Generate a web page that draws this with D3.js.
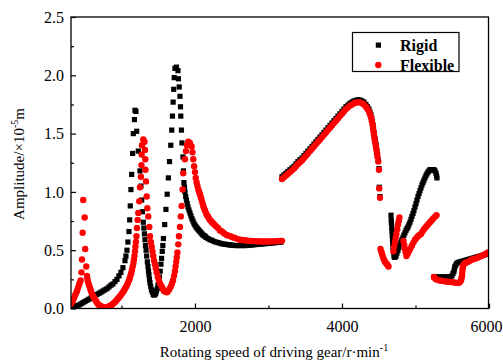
<!DOCTYPE html>
<html>
<head>
<meta charset="utf-8">
<script src="https://cdn.jsdelivr.net/npm/d3@7"></script>
<style>
  body { margin: 0; background: #fff; }
  svg { font-family: "Liberation Serif", "Times New Roman", serif; }
</style>
</head>
<body>
<svg id="chart" width="503" height="363"></svg>
<script>
// [speed r/min, amplitude x1e-5 m]
const rigidPoints = [
  [313,0.01],[340,0.015],[367,0.02],[395,0.025],[422,0.03],[449,0.04],[476,0.05],[503,0.06],[531,0.07],[558,0.08],
  [585,0.09],[612,0.10],[639,0.11],[667,0.12],[694,0.13],[721,0.14],[748,0.15],[775,0.16],[803,0.17],[830,0.185],
  [857,0.20],[884,0.21],[912,0.23],[939,0.25],[966,0.28],[993,0.31],[1020,0.35],[1048,0.41],[1061,0.45],[1075,0.50],
  [1088,0.57],[1102,0.66],[1112,0.76],[1120,0.88],[1129,1.02],[1139,1.15],[1152,1.33],[1161,1.50],[1177,1.62],[1184,1.70],
  [1197,1.69],[1207,1.52],[1229,1.35],[1252,1.18],[1265,1.05],[1275,0.93],[1286,0.83],[1297,0.74],[1305,0.69],[1313,0.64],
  [1320,0.59],[1327,0.54],[1335,0.50],[1343,0.45],[1352,0.40],[1361,0.36],[1368,0.32],[1374,0.29],[1381,0.25],[1388,0.22],
  [1398,0.19],[1408,0.16],[1420,0.14],[1433,0.12],[1445,0.115],[1456,0.12],[1466,0.13],[1476,0.15],[1487,0.17],[1497,0.20],
  [1507,0.23],[1517,0.27],[1527,0.32],[1537,0.38],[1546,0.43],[1555,0.49],[1563,0.54],[1571,0.60],[1588,0.72],[1605,0.85],
  [1622,0.98],[1638,1.12],[1654,1.26],[1671,1.40],[1684,1.53],[1694,1.65],[1703,1.77],[1711,1.88],[1718,1.98],[1728,2.06],
  [1748,2.07],[1769,2.04],[1775,1.97],[1786,1.90],[1796,1.82],[1803,1.73],[1807,1.65],[1816,1.53],[1823,1.42],[1837,1.30],
  [1843,1.18],[1850,1.08],[1857,1.04],[1864,1.00],[1874,0.96],[1884,0.93],[1895,0.90],[1905,0.87],[1918,0.845],[1932,0.82],
  [1945,0.795],[1959,0.77],[1973,0.75],[1986,0.73],[2000,0.715],[2014,0.70],[2027,0.69],[2041,0.68],[2054,0.67],[2068,0.66],
  [2082,0.65],[2095,0.64],[2109,0.63],[2123,0.625],[2136,0.62],[2150,0.61],[2177,0.60],[2204,0.59],[2231,0.585],[2258,0.575],
  [2286,0.57],[2313,0.565],[2340,0.56],[2367,0.555],[2395,0.552],[2422,0.55],[2449,0.547],[2476,0.545],[2503,0.543],[2531,0.541],
  [2558,0.54],[2585,0.54],[2612,0.54],[2639,0.54],[2667,0.54],[2694,0.54],[2721,0.542],[2748,0.544],[2775,0.545],[2803,0.547],
  [2830,0.549],[2857,0.55],[2884,0.552],[2912,0.554],[2939,0.555],[2966,0.557],[2993,0.559],[3020,0.56],[3048,0.562],[3075,0.564],
  [3102,0.565],[3129,0.567],[3156,0.569],[3170,0.57],
  [3184,1.13],[3211,1.145],[3238,1.16],[3265,1.175],[3292,1.19],[3320,1.205],[3347,1.22],[3374,1.24],[3401,1.26],[3428,1.275],
  [3456,1.29],[3483,1.31],[3510,1.33],[3537,1.35],[3565,1.37],[3592,1.39],[3619,1.41],[3646,1.43],[3673,1.45],[3701,1.47],
  [3728,1.49],[3755,1.51],[3782,1.53],[3809,1.55],[3837,1.57],[3864,1.59],[3891,1.61],[3918,1.63],[3945,1.65],[3973,1.67],
  [4000,1.69],[4027,1.71],[4054,1.73],[4082,1.745],[4109,1.76],[4136,1.77],[4163,1.78],[4190,1.785],[4218,1.79],[4245,1.788],
  [4272,1.78],[4299,1.77],[4326,1.75],[4347,1.73],[4367,1.71],[4381,1.685],[4394,1.66],[4405,1.63],[4415,1.60],[4422,1.57],
  [4428,1.54],[4435,1.51],[4442,1.48],[4449,1.455],[4456,1.43],[4462,1.405],[4469,1.38],[4476,1.35],[4483,1.32],[4494,1.27],
  [4503,1.20],[4507,1.04],[4517,0.96],
  [4667,0.80],[4670,0.76],[4673,0.73],[4677,0.695],[4680,0.66],[4684,0.625],[4687,0.59],[4690,0.555],[4694,0.52],[4700,0.485],
  [4707,0.45],[4714,0.44],[4721,0.44],
  [4735,0.45],[4748,0.475],[4762,0.50],[4775,0.525],[4789,0.55],[4802,0.57],[4816,0.59],[4830,0.61],[4843,0.63],[4857,0.65],
  [4871,0.67],[4884,0.685],[4898,0.70],[4911,0.72],[4925,0.74],[4939,0.765],[4952,0.79],[4966,0.815],[4979,0.84],[4993,0.87],
  [5007,0.90],[5020,0.93],[5034,0.96],[5048,0.985],[5061,1.01],[5075,1.035],[5088,1.06],[5102,1.08],[5115,1.10],[5129,1.12],
  [5143,1.14],[5156,1.155],[5170,1.17],[5184,1.18],[5197,1.19],[5211,1.19],[5224,1.19],[5238,1.19],[5251,1.19],[5265,1.18],
  [5279,1.16],[5286,1.14],[5292,1.12],
  [5251,0.27],[5272,0.27],[5292,0.27],[5313,0.27],[5333,0.27],[5354,0.27],[5374,0.27],[5394,0.27],[5415,0.27],[5435,0.27],
  [5456,0.27],[5476,0.272],[5496,0.28],[5510,0.30],[5524,0.32],[5530,0.34],[5537,0.36],[5550,0.375],[5564,0.39],[5585,0.395],
  [5605,0.40],[5632,0.405],[5660,0.41],[5687,0.415],[5714,0.42],[5741,0.425],[5768,0.43],[5796,0.435],[5823,0.44],[5850,0.445],
  [5877,0.45],[5905,0.455],[5932,0.46],[5959,0.465],[5986,0.47]
];

const flexiblePoints = [
  [313,0.04],[327,0.055],[340,0.07],[354,0.09],[367,0.11],[381,0.13],[395,0.15],[408,0.175],[422,0.20],[433,0.22],
  [445,0.24],[456,0.31],[463,0.42],[472,0.65],[480,0.93],[499,0.78],[507,0.51],[521,0.36],[531,0.28],[537,0.255],
  [544,0.23],[554,0.21],[565,0.19],[575,0.17],[585,0.15],[598,0.13],[612,0.11],[625,0.095],[639,0.08],[653,0.065],
  [667,0.05],[680,0.04],[694,0.03],[707,0.025],[721,0.02],[735,0.015],[748,0.01],[762,0.007],[775,0.005],[789,0.007],
  [803,0.01],[816,0.013],[830,0.017],[843,0.022],[857,0.027],[870,0.033],[884,0.04],[898,0.048],[912,0.056],[925,0.065],
  [939,0.075],[952,0.085],[966,0.095],[980,0.105],[993,0.115],[1007,0.13],[1020,0.14],[1034,0.155],[1048,0.17],[1061,0.185],
  [1075,0.20],[1088,0.22],[1102,0.24],[1112,0.26],[1122,0.28],[1133,0.305],[1143,0.33],[1153,0.36],[1163,0.39],[1170,0.42],
  [1177,0.45],[1184,0.49],[1190,0.53],[1197,0.57],[1204,0.62],[1211,0.69],[1220,0.76],[1229,0.82],[1243,0.92],[1252,1.04],
  [1265,1.13],[1272,1.23],[1275,1.32],[1279,1.40],[1297,1.45],
  [1313,1.43],[1320,1.36],[1324,1.28],[1327,1.19],[1334,1.09],[1343,0.96],[1352,0.86],[1365,0.79],[1379,0.70],[1388,0.62],
  [1400,0.57],[1411,0.53],[1422,0.49],[1433,0.45],[1444,0.41],[1456,0.38],[1467,0.345],[1479,0.31],[1494,0.27],[1510,0.24],
  [1528,0.21],[1547,0.19],[1562,0.17],[1578,0.15],[1596,0.145],[1615,0.14],[1631,0.145],[1646,0.16],[1660,0.175],[1673,0.19],
  [1687,0.215],[1701,0.24],[1715,0.28],[1728,0.32],[1737,0.36],[1745,0.40],[1753,0.44],[1761,0.48],[1773,0.55],[1782,0.62],
  [1796,0.70],[1807,0.79],[1819,0.88],[1832,1.02],[1841,1.16],[1864,1.28],[1877,1.35],[1891,1.40],[1909,1.43],[1932,1.42],
  [1955,1.39],[1966,1.34],[1977,1.28],[1988,1.22],[2000,1.17],[2011,1.12],[2023,1.08],[2034,1.05],[2045,1.02],[2057,1.00],
  [2068,0.98],[2079,0.955],[2091,0.93],[2102,0.905],[2113,0.88],[2124,0.86],[2136,0.84],[2150,0.82],[2163,0.80],[2177,0.79],
  [2190,0.775],[2204,0.76],[2218,0.75],[2231,0.74],[2249,0.73],[2263,0.72],[2286,0.705],[2313,0.69],[2340,0.67],[2367,0.66],
  [2395,0.645],[2431,0.63],[2458,0.625],[2490,0.617],[2517,0.61],[2544,0.605],[2585,0.595],[2612,0.59],[2639,0.588],[2667,0.585],
  [2694,0.583],[2721,0.581],[2748,0.58],[2775,0.579],[2803,0.578],[2830,0.577],[2857,0.576],[2884,0.576],[2912,0.575],[2939,0.575],
  [2966,0.575],[2993,0.575],[3020,0.575],[3048,0.576],[3075,0.576],[3102,0.577],[3129,0.578],[3156,0.579],[3184,0.58],
  [3184,1.11],[3211,1.125],[3238,1.14],[3265,1.155],[3292,1.17],[3320,1.185],[3347,1.20],[3374,1.22],[3401,1.24],[3428,1.255],
  [3456,1.27],[3483,1.29],[3510,1.31],[3537,1.33],[3565,1.35],[3592,1.37],[3619,1.39],[3646,1.41],[3673,1.43],[3701,1.45],
  [3728,1.47],[3755,1.49],[3782,1.51],[3809,1.53],[3837,1.55],[3864,1.57],[3891,1.59],[3918,1.61],[3945,1.63],[3973,1.65],
  [4000,1.67],[4027,1.69],[4054,1.71],[4082,1.725],[4109,1.74],[4136,1.75],[4163,1.76],[4190,1.765],[4218,1.77],[4245,1.768],
  [4272,1.76],[4299,1.75],[4326,1.73],[4347,1.71],[4367,1.69],[4381,1.665],[4394,1.64],[4405,1.61],[4415,1.58],[4422,1.55],
  [4428,1.52],[4435,1.49],[4442,1.46],[4449,1.435],[4456,1.41],[4462,1.385],[4469,1.36],[4476,1.33],[4483,1.30],[4494,1.26],
  [4503,1.19],[4507,1.03],[4517,0.95],
  [4524,0.51],[4534,0.49],[4544,0.47],[4554,0.45],[4564,0.43],[4575,0.415],[4585,0.40],[4598,0.39],[4612,0.38],[4622,0.37],
  [4633,0.36],
  [4700,0.49],[4710,0.53],[4721,0.57],[4731,0.605],[4741,0.64],[4752,0.68],[4762,0.72],[4772,0.75],[4782,0.78],
  [4837,0.58],[4847,0.545],[4857,0.51],[4867,0.48],[4877,0.45],[4894,0.47],[4911,0.49],[4931,0.515],[4952,0.54],[4972,0.565],
  [4993,0.59],[5014,0.605],[5034,0.62],[5054,0.63],[5075,0.64],[5095,0.66],[5115,0.68],[5136,0.695],[5156,0.71],[5177,0.725],
  [5197,0.74],[5218,0.755],[5238,0.77],[5262,0.785],[5286,0.80],
  [5251,0.27],[5265,0.26],[5279,0.25],[5306,0.245],[5333,0.24],[5360,0.237],[5387,0.235],[5415,0.232],[5442,0.23],[5469,0.228],
  [5496,0.227],[5524,0.224],[5551,0.22],[5571,0.22],[5592,0.22],[5605,0.23],[5619,0.24],[5626,0.26],[5633,0.28],[5636,0.305],
  [5639,0.33],[5643,0.35],[5646,0.37],[5660,0.38],[5673,0.39],[5694,0.395],[5714,0.40],[5741,0.41],[5768,0.42],[5796,0.425],
  [5823,0.43],[5850,0.437],[5877,0.445],[5905,0.452],[5932,0.46],[5959,0.47],[5986,0.48]
];

const seriesNames = ["Rigid", "Flexible"];
const xMajorTicks = [2000, 4000, 6000];
const xMinorTicks = [1000, 3000, 5000];
const yMajorTicks = [0, 0.5, 1.0, 1.5, 2.0, 2.5];
const yMinorTicks = [0.25, 0.75, 1.25, 1.75, 2.25];

const svg = d3.select("#chart");
const plotLeft = 71, plotRight = 488.5, plotTop = 17, plotBottom = 308.5;

const x = d3.scaleLinear().domain([300, 6000]).range([70, 489]);
const y = d3.scaleLinear().domain([0, 2.5]).range([plotBottom, plotTop]);

// Zone de tracé
svg.append("defs").append("clipPath").attr("id", "plot")
  .append("rect").attr("x", plotLeft).attr("y", plotTop)
  .attr("width", plotRight - plotLeft).attr("height", plotBottom - plotTop);

const marks = svg.append("g").attr("clip-path", "url(#plot)");

marks.selectAll(".rigid").data(rigidPoints).enter()
  .append("rect").attr("class", "rigid")
  .attr("x", (d) => x(d[0]) - 2.6).attr("y", (d) => y(d[1]) - 2.6)
  .attr("width", 5.2).attr("height", 5.2)
  .attr("fill", "#000");

marks.selectAll(".flex").data(flexiblePoints).enter()
  .append("circle").attr("class", "flex")
  .attr("cx", (d) => x(d[0])).attr("cy", (d) => y(d[1]))
  .attr("r", 3.2)
  .attr("fill", "#ff0000");

// Axes
const fontSize = 16;
function styleAxis(g) {
  g.select(".domain").remove();
  g.selectAll("line").attr("stroke", "#000").attr("stroke-width", 1.2);
  g.selectAll("text").attr("font-size", fontSize).attr("fill", "#000")
    .attr("font-family", "'Liberation Serif', serif");
}

const xAxis = svg.append("g").attr("transform", `translate(0,${plotBottom})`)
  .call(d3.axisBottom(x).tickValues(xMajorTicks).tickSize(-5).tickPadding(12).tickFormat(d3.format("d")))
  .call(styleAxis);
// le dernier libellé touche le bord droit
xAxis.selectAll("text").filter((d) => d === 6000).attr("dx", -3);

svg.append("g").attr("transform", `translate(0,${plotBottom})`)
  .call(d3.axisBottom(x).tickValues(xMinorTicks).tickSize(-3).tickFormat(""))
  .call(styleAxis);
svg.append("g").attr("transform", `translate(${plotLeft},0)`)
  .call(d3.axisLeft(y).tickValues(yMajorTicks).tickSize(-5).tickPadding(7).tickFormat(d3.format(".1f")))
  .call(styleAxis);
svg.append("g").attr("transform", `translate(${plotLeft},0)`)
  .call(d3.axisLeft(y).tickValues(yMinorTicks).tickSize(-3).tickFormat(""))
  .call(styleAxis);

svg.append("rect")
  .attr("x", plotLeft).attr("y", plotTop)
  .attr("width", plotRight - plotLeft).attr("height", plotBottom - plotTop)
  .attr("fill", "none").attr("stroke", "#000").attr("stroke-width", 1.3);

// Titres des axes
const xTitle = svg.append("text")
  .attr("x", 274).attr("y", 357)
  .attr("text-anchor", "middle").attr("font-size", 15);
xTitle.append("tspan").text("Rotating speed of driving gear/r\u00b7min");
xTitle.append("tspan").attr("dy", -6).attr("font-size", 10).text("-1");

const yTitle = svg.append("text")
  .attr("transform", "translate(24,164) rotate(-90)")
  .attr("text-anchor", "middle").attr("font-size", 15);
yTitle.append("tspan").text("Amplitude/\u00d710");
yTitle.append("tspan").attr("dy", -6).attr("font-size", 10).text("-5");
yTitle.append("tspan").attr("dy", 6).text("m");

// Légende
const legend = svg.append("g");
legend.append("rect")
  .attr("x", 352.5).attr("y", 32.5).attr("width", 106.5).attr("height", 39)
  .attr("fill", "#fff").attr("stroke", "#000").attr("stroke-width", 1.2);
legend.append("rect").attr("x", 375.8).attr("y", 42.5).attr("width", 5.2).attr("height", 5.2).attr("fill", "#000");
legend.append("circle").attr("cx", 378.3).attr("cy", 65).attr("r", 3.2).attr("fill", "#ff0000");
legend.selectAll(".label").data(seriesNames).enter()
  .append("text").attr("class", "label")
  .attr("x", 400).attr("y", (d, i) => 50.5 + i * 20)
  .attr("font-size", 16).attr("font-weight", "bold")
  .text((d) => d);
</script>
</body>
</html>
